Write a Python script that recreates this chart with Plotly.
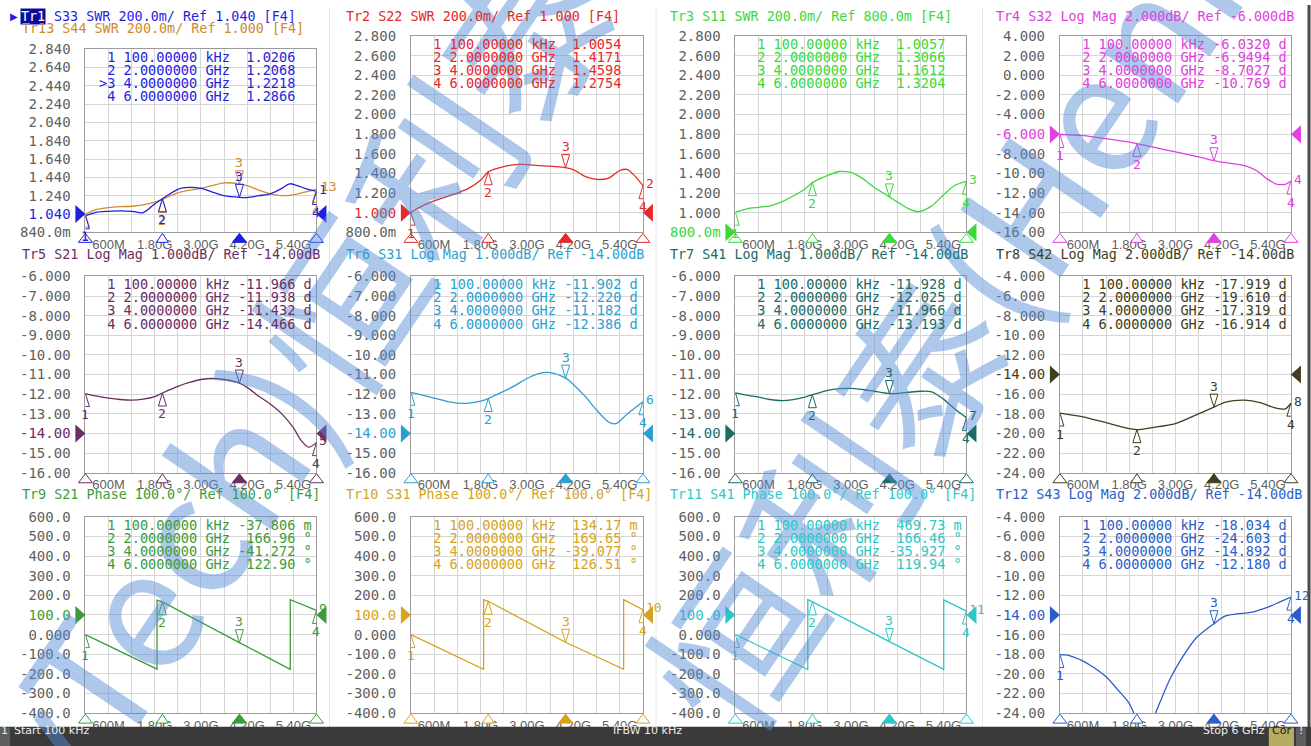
import plotly.graph_objects as go

W, H = 1311, 746

# ---------------- data (GHz, trace values) ----------------
x_tick_vals = [0, 0.6, 1.2, 1.8, 2.4, 3.0, 3.6, 4.2, 4.8, 5.4, 6.0]
x_tick_text = ["", "600M", "", "1.80G", "", "3.00G", "", "4.20G", "", "5.40G", ""]

marker_freqs = [0.0001, 2.0, 4.0, 6.0]
marker_freq_text = ["100.00000", "2.0000000", "4.0000000", "6.0000000"]
marker_units = ["kHz", "GHz", "GHz", "GHz"]

tr1_freq = [0.0001, 0.3, 0.6, 0.9, 1.2, 1.5, 1.8, 2.0, 2.4, 2.7, 3.0, 3.3, 3.6, 4.0, 4.2, 4.5, 4.8, 5.1, 5.3, 5.5, 5.7, 6.0]
tr1_swr = [1.0206, 1.06, 1.07, 1.075, 1.07, 1.055, 1.15, 1.2068, 1.31, 1.33, 1.32, 1.28, 1.24, 1.2218, 1.22, 1.24, 1.26, 1.32, 1.37, 1.35, 1.32, 1.2866]
tr13_freq = [0.0001, 0.3, 0.6, 0.9, 1.2, 1.5, 1.8, 2.0, 2.4, 2.7, 3.0, 3.3, 3.6, 4.0, 4.2, 4.5, 4.8, 5.1, 5.4, 5.7, 6.0]
tr13_swr = [1.04, 1.09, 1.11, 1.12, 1.125, 1.14, 1.17, 1.20, 1.27, 1.30, 1.32, 1.35, 1.38, 1.37, 1.35, 1.30, 1.26, 1.24, 1.25, 1.28, 1.31]
tr2_freq = [0.0001, 0.3, 0.6, 0.9, 1.2, 1.5, 1.8, 2.0, 2.4, 2.7, 3.0, 3.3, 3.6, 4.0, 4.2, 4.5, 4.8, 5.1, 5.4, 5.6, 5.8, 6.0]
tr2_swr = [1.0054, 1.07, 1.12, 1.16, 1.2, 1.25, 1.33, 1.4171, 1.47, 1.49, 1.49, 1.48, 1.475, 1.4598, 1.44, 1.37, 1.34, 1.35, 1.43, 1.44, 1.37, 1.2754]
tr3_freq = [0.0001, 0.3, 0.6, 0.9, 1.2, 1.5, 1.8, 2.0, 2.4, 2.7, 3.0, 3.3, 3.6, 4.0, 4.2, 4.5, 4.75, 5.1, 5.4, 5.7, 6.0]
tr3_swr = [1.0057, 1.04, 1.055, 1.07, 1.11, 1.17, 1.24, 1.3066, 1.38, 1.42, 1.41, 1.35, 1.26, 1.1612, 1.11, 1.04, 1.01, 1.07, 1.18, 1.28, 1.3204]
tr4_freq = [0.0001, 0.6, 1.2, 1.8, 2.0, 2.4, 3.0, 3.6, 4.0, 4.2, 4.8, 5.1, 5.4, 5.6, 5.85, 6.0]
tr4_db = [-6.032, -6.15, -6.45, -6.8, -6.9494, -7.3, -7.8, -8.3, -8.7027, -8.85, -9.2, -9.7, -10.6, -11.05, -11.1, -10.769]
tr5_freq = [0.0001, 0.3, 0.6, 0.9, 1.2, 1.5, 1.8, 2.0, 2.4, 2.7, 3.0, 3.3, 3.6, 4.0, 4.2, 4.5, 4.8, 5.1, 5.4, 5.6, 5.8, 6.0]
tr5_db = [-11.966, -12.1, -12.2, -12.27, -12.3, -12.25, -12.12, -11.938, -11.6, -11.4, -11.25, -11.2, -11.25, -11.432, -11.65, -12.1, -12.5, -13.0, -13.7, -14.35, -14.7, -14.466]
tr6_freq = [0.0001, 0.3, 0.6, 0.9, 1.2, 1.5, 1.8, 2.0, 2.4, 2.7, 3.0, 3.3, 3.6, 4.0, 4.2, 4.5, 4.8, 5.1, 5.3, 5.6, 6.0]
tr6_db = [-11.902, -12.05, -12.2, -12.35, -12.45, -12.45, -12.35, -12.22, -11.85, -11.55, -11.2, -10.95, -10.9, -11.182, -11.5, -12.1, -12.8, -13.4, -13.5, -13.0, -12.386]
tr7_freq = [0.0001, 0.3, 0.6, 0.9, 1.2, 1.5, 1.8, 2.0, 2.4, 2.7, 3.0, 3.3, 3.6, 4.0, 4.2, 4.5, 4.8, 5.1, 5.4, 5.7, 6.0]
tr7_db = [-11.928, -12.05, -12.15, -12.27, -12.33, -12.28, -12.15, -12.025, -11.8, -11.72, -11.7, -11.76, -11.85, -11.966, -11.96, -11.9, -11.85, -11.88, -12.25, -12.75, -13.193]
tr8_freq = [0.0001, 0.6, 1.2, 1.8, 2.0, 2.4, 3.0, 3.6, 4.0, 4.3, 4.8, 5.2, 5.6, 5.85, 6.0]
tr8_db = [-17.919, -18.3, -18.9, -19.5, -19.61, -19.4, -19.0, -18.0, -17.319, -16.8, -16.6, -16.85, -17.4, -17.5, -16.914]
tr9_freq = [0.0001, 1.86, 1.86, 2.0, 4.0, 5.32, 5.32, 6.0]
tr9_deg = [-0.037806, -176, 176, 166.96, -41.272, -177, 178, 122.90]
tr10_freq = [0.0001, 1.88, 1.88, 2.0, 4.0, 5.5, 5.5, 6.0]
tr10_deg = [0.13417, -177, 178, 169.65, -39.077, -177, 178, 126.51]
tr11_freq = [0.0001, 1.88, 1.88, 2.0, 4.0, 5.41, 5.41, 6.0]
tr11_deg = [0.46973, -178, 178, 166.46, -35.927, -177, 177, 119.94]
tr12_freq = [0.0001, 0.2, 0.6, 0.9, 1.2, 1.5, 1.8, 2.0, 2.2, 2.4, 2.6, 2.85, 3.2, 3.55, 4.0, 4.3, 4.6, 5.0, 5.4, 5.7, 6.0]
tr12_db = [-18.034, -18.1, -18.7, -19.4, -20.3, -21.6, -23.0, -24.603, -25.3, -24.6, -22.9, -20.6, -18.2, -16.3, -14.892, -14.1, -13.9, -13.7, -13.2, -12.7, -12.180]

# marker readouts (values at marker_freqs)
tr1_mk = [1.0206, 1.2068, 1.2218, 1.2866]
tr1_mk_text = ["1.0206", "1.2068", "1.2218", "1.2866"]
tr13_mk = [1.04, 1.20, 1.37, 1.31]
tr2_mk = [1.0054, 1.4171, 1.4598, 1.2754]
tr2_mk_text = ["1.0054", "1.4171", "1.4598", "1.2754"]
tr3_mk = [1.0057, 1.3066, 1.1612, 1.3204]
tr3_mk_text = ["1.0057", "1.3066", "1.1612", "1.3204"]
tr4_mk = [-6.0320, -6.9494, -8.7027, -10.769]
tr4_mk_text = ["-6.0320 d", "-6.9494 d", "-8.7027 d", "-10.769 d"]
tr5_mk = [-11.966, -11.938, -11.432, -14.466]
tr5_mk_text = ["-11.966 d", "-11.938 d", "-11.432 d", "-14.466 d"]
tr6_mk = [-11.902, -12.220, -11.182, -12.386]
tr6_mk_text = ["-11.902 d", "-12.220 d", "-11.182 d", "-12.386 d"]
tr7_mk = [-11.928, -12.025, -11.966, -13.193]
tr7_mk_text = ["-11.928 d", "-12.025 d", "-11.966 d", "-13.193 d"]
tr8_mk = [-17.919, -19.610, -17.319, -16.914]
tr8_mk_text = ["-17.919 d", "-19.610 d", "-17.319 d", "-16.914 d"]
tr9_mk = [-0.037806, 166.96, -41.272, 122.90]
tr9_mk_text = ["-37.806 m", " 166.96 °", "-41.272 °", " 122.90 °"]
tr10_mk = [0.13417, 169.65, -39.077, 126.51]
tr10_mk_text = [" 134.17 m", " 169.65 °", "-39.077 °", " 126.51 °"]
tr11_mk = [0.46973, 166.46, -35.927, 119.94]
tr11_mk_text = [" 469.73 m", " 166.46 °", "-35.927 °", " 119.94 °"]
tr12_mk = [-18.034, -24.603, -14.892, -12.180]
tr12_mk_text = ["-18.034 d", "-24.603 d", "-14.892 d", "-12.180 d"]

# ---------------- styling / layout helpers ----------------
MONO = "DejaVu Sans Mono"
SANS = "Liberation Sans"
GRAY = "#5f5f5f"
NB = "\u00a0"

# panel boxes in screen pixels
COL_X = [(88, 318), (412, 643), (735, 965), (1058, 1288)]
ROW_Y = [(37, 233), (277, 473), (517, 713)]
TITLE_X = [23, 345, 668, 992]
TITLE_Y = [17, 255, 495]

panels = [
    dict(n="1", title="S33 SWR 200.0m/ Ref 1.040 [F4]", color="#1f1fe0", f=tr1_freq, v=tr1_swr,
         lo=0.84, hi=2.84, ref=1.04, mk=tr1_mk, mkt=tr1_mk_text, shape="spline"),
    dict(n="2", title="Tr2 S22 SWR 200.0m/ Ref 1.000 [F4]", color="#e42a2a", f=tr2_freq, v=tr2_swr,
         lo=0.8, hi=2.8, ref=1.0, mk=tr2_mk, mkt=tr2_mk_text, shape="spline"),
    dict(n="3", title="Tr3 S11 SWR 200.0m/ Ref 800.0m [F4]", color="#3cd83c", f=tr3_freq, v=tr3_swr,
         lo=0.8, hi=2.8, ref=0.8, mk=tr3_mk, mkt=tr3_mk_text, shape="spline"),
    dict(n="4", title="Tr4 S32 Log Mag 2.000dB/ Ref -6.000dB", color="#e040e0", f=tr4_freq, v=tr4_db,
         lo=-16, hi=4, ref=-6, mk=tr4_mk, mkt=tr4_mk_text, shape="spline"),
    dict(n="5", title="Tr5 S21 Log Mag 1.000dB/ Ref -14.00dB", color="#6b2d62", f=tr5_freq, v=tr5_db,
         lo=-16, hi=-6, ref=-14, mk=tr5_mk, mkt=tr5_mk_text, shape="spline"),
    dict(n="6", title="Tr6 S31 Log Mag 1.000dB/ Ref -14.00dB", color="#2c9fcf", f=tr6_freq, v=tr6_db,
         lo=-16, hi=-6, ref=-14, mk=tr6_mk, mkt=tr6_mk_text, shape="spline"),
    dict(n="7", title="Tr7 S41 Log Mag 1.000dB/ Ref -14.00dB", color="#1b6b66", f=tr7_freq, v=tr7_db,
         lo=-16, hi=-6, ref=-14, mk=tr7_mk, mkt=tr7_mk_text, shape="spline"),
    dict(n="8", title="Tr8 S42 Log Mag 2.000dB/ Ref -14.00dB", color="#403d20", f=tr8_freq, v=tr8_db,
         lo=-24, hi=-4, ref=-14, mk=tr8_mk, mkt=tr8_mk_text, shape="spline"),
    dict(n="9", title="Tr9 S21 Phase 100.0°/ Ref 100.0° [F4]", color="#3c9c3c", f=tr9_freq, v=tr9_deg,
         lo=-400, hi=600, ref=100, mk=tr9_mk, mkt=tr9_mk_text, shape="linear"),
    dict(n="10", title="Tr10 S31 Phase 100.0°/ Ref 100.0° [F4]", color="#d4a41c", f=tr10_freq, v=tr10_deg,
         lo=-400, hi=600, ref=100, mk=tr10_mk, mkt=tr10_mk_text, shape="linear"),
    dict(n="11", title="Tr11 S41 Phase 100.0°/ Ref 100.0° [F4]", color="#2cc8c8", f=tr11_freq, v=tr11_deg,
         lo=-400, hi=600, ref=100, mk=tr11_mk, mkt=tr11_mk_text, shape="linear"),
    dict(n="12", title="Tr12 S43 Log Mag 2.000dB/ Ref -14.00dB", color="#2b5ec8", f=tr12_freq, v=tr12_db,
         lo=-24, hi=-4, ref=-14, mk=tr12_mk, mkt=tr12_mk_text, shape="spline"),
]
TR13_COLOR = "#d08a30"

# the captured page is slightly larger than the figure; map screen pixels to figure paper coords
SX, CX = 0.9954, 3.0
SY, CY = 0.977, 9.0


def px(xp):
    return (xp - CX) / SX / W


def py(yp):
    return 1 - (yp - CY) / SY / H


def fmt_tick(v):
    a = abs(v)
    if a < 1e-9:
        return "0.000"
    if a < 1:
        return f"{v * 1000:.1f}m"
    if a < 10:
        return f"{v:.3f}"
    if a < 100:
        return f"{v:.2f}"
    return f"{v:.1f}"


def axn(k):
    return "" if k == 1 else str(k)


fig = go.Figure()
layout = dict(
    width=W, height=H, margin=dict(l=0, r=0, t=0, b=0),
    paper_bgcolor="white", plot_bgcolor="white", showlegend=False,
)
shapes = []
ann = []

# watermark
WM = "rgba(85,140,215,0.48)"
WM_FONT = dict(family="Noto Sans CJK SC", size=165, color=WM)
ann.append(dict(xref="paper", yref="paper", x=px(1082), y=py(115), xanchor="center", yanchor="middle",
                text="恒利泰(HenryTech)", textangle=-56, showarrow=False, font=WM_FONT))
ann.append(dict(xref="paper", yref="paper", x=px(200), y=py(510), xanchor="center", yanchor="middle",
                text="HenryTech)恒利泰(", textangle=-56, showarrow=False, font=WM_FONT))


def add_markers(k, freqs, vals, color):
    xr, yr = "x" + axn(k), "y" + axn(k)
    for j, (fq, val) in enumerate(zip(freqs, vals)):
        if j == 2:
            path = "M0,0 L-4,13 L4,13 Z"
            shift = 21
        else:
            path = "M0,0 L-4,-13 L4,-13 Z"
            shift = -21
        shapes.append(dict(type="path", xref=xr, yref=yr, xsizemode="pixel", ysizemode="pixel",
                           xanchor=fq, yanchor=val, path=path, line=dict(color=color, width=1),
                           fillcolor="rgba(0,0,0,0)", layer="above"))
        ann.append(dict(xref=xr, yref=yr, x=fq, y=val, text=str(j + 1), showarrow=False,
                        yshift=shift, font=dict(family=MONO, size=13, color=color)))


for i, p in enumerate(panels):
    k = i + 1
    a = axn(k)
    col, row = i % 4, i // 4
    x0, x1 = COL_X[col]
    y0, y1 = ROW_Y[row]
    if i == 0:
        y0 = 50
    c = p["color"]
    lo, hi, ref = p["lo"], p["hi"], p["ref"]
    step = (hi - lo) / 10
    tv = [round(lo + step * j, 6) for j in range(11)]
    tt = []
    for v in tv:
        s = fmt_tick(v)
        if abs(v - ref) < 1e-6:
            s = f"<span style='color:{c}'>{s}</span>"
        tt.append(s)
    layout["xaxis" + a] = dict(
        domain=[px(x0), px(x1)], range=[0, 6], anchor="y" + a,
        tickmode="array", tickvals=x_tick_vals, ticktext=x_tick_text,
        showgrid=True, gridcolor="#d6d6d6", gridwidth=1, zeroline=False,
        showline=True, mirror=True, linecolor="#9c9c9c", linewidth=1,
        ticks="", ticklabelstandoff=0,
        tickfont=dict(family=SANS, size=13, color=GRAY), fixedrange=True,
    )
    layout["yaxis" + a] = dict(
        domain=[py(y1), py(y0)], range=[lo, hi], anchor="x" + a,
        tickmode="array", tickvals=tv, ticktext=tt,
        showgrid=True, gridcolor="#d6d6d6", gridwidth=1, zeroline=False,
        showline=True, mirror=True, linecolor="#9c9c9c", linewidth=1,
        ticks="", ticklabelstandoff=11,
        tickfont=dict(family=MONO, size=14, color=GRAY), fixedrange=True,
    )
    xr, yr = "x" + a, "y" + a

    if i == 0:
        fig.add_trace(go.Scatter(x=tr13_freq, y=tr13_swr, xaxis=xr, yaxis=yr, mode="lines",
                                 line=dict(color=TR13_COLOR, width=1.3, shape="spline", smoothing=0.8),
                                 hoverinfo="skip"))
    fig.add_trace(go.Scatter(x=p["f"], y=p["v"], xaxis=xr, yaxis=yr, mode="lines",
                             line=dict(color=c, width=1.3, shape=p["shape"],
                                       **({"smoothing": 0.8} if p["shape"] == "spline" else {})),
                             hoverinfo="skip"))

    # curve markers
    if i == 0:
        add_markers(k, marker_freqs, tr13_mk, TR13_COLOR)
        ann.append(dict(xref=xr, yref=yr, x=6, y=tr13_swr[-1], text="13", showarrow=False,
                        xanchor="left", xshift=3, yshift=3, font=dict(family=MONO, size=13, color=TR13_COLOR)))
    add_markers(k, marker_freqs, p["mk"], c)
    ann.append(dict(xref=xr, yref=yr, x=6, y=p["v"][-1], text=p["n"], showarrow=False,
                    xanchor="left", xshift=1, yshift=2, font=dict(family=MONO, size=13, color=c)))

    # reference level arrows
    yfrac = (ref - lo) / (hi - lo)
    for side, path in ((0, "M0,0 L-10,9 L-10,-9 Z"), (1, "M0,0 L10,9 L10,-9 Z")):
        shapes.append(dict(type="path", xref=xr + " domain", yref=yr + " domain",
                           xsizemode="pixel", ysizemode="pixel", xanchor=side, yanchor=yfrac,
                           path=path, line=dict(color=c, width=0), fillcolor=c, layer="above"))
    # stimulus marker indicators below the grid
    for j, fq in enumerate(marker_freqs):
        filled = (j == 2)
        hw = 7 if j != 1 else 6
        shapes.append(dict(type="path", xref=xr + " domain", yref=yr + " domain",
                           xsizemode="pixel", ysizemode="pixel", xanchor=fq / 6, yanchor=0,
                           path=f"M0,-1 L-{hw},-10 L{hw},-10 Z", line=dict(color=c, width=1),
                           fillcolor=c if filled else "white", layer="above"))

    # marker table
    top = y0
    for j in range(4):
        prefix = ">" if (i == 0 and j == 2) else NB
        line = f"{prefix}{j + 1} {marker_freq_text[j]} {marker_units[j]} {p['mkt'][j]:>7}"
        line = line.replace(" ", NB)
        ann.append(dict(xref="paper", yref="paper", x=px(x0 + 12), y=py(top + 8 + 13 * j),
                        xanchor="left", yanchor="middle", text=line, showarrow=False,
                        font=dict(family=MONO, size=13.6, color=c)))

    # title
    tx, tyy = TITLE_X[col], TITLE_Y[row]
    if i == 0:
        ann.append(dict(xref="paper", yref="paper", x=px(11), y=py(tyy), xanchor="left", yanchor="middle",
                        text="▶", showarrow=False, font=dict(family="DejaVu Sans", size=10, color=c)))
        ann.append(dict(xref="paper", yref="paper", x=px(tx), y=py(tyy), xanchor="left", yanchor="middle",
                        text="Tr1", showarrow=False, bgcolor="#0c0c9c", borderpad=0,
                        font=dict(family=MONO, size=13.4, color="white")))
        ann.append(dict(xref="paper", yref="paper", x=px(tx + 32), y=py(tyy), xanchor="left",
                        yanchor="middle", text=p["title"].replace(" ", NB), showarrow=False,
                        font=dict(family=MONO, size=13.4, color=c)))
        ann.append(dict(xref="paper", yref="paper", x=px(tx), y=py(tyy + 12), xanchor="left",
                        yanchor="middle", text="Tr13 S44 SWR 200.0m/ Ref 1.000 [F4]".replace(" ", NB),
                        showarrow=False, font=dict(family=MONO, size=13.4, color=TR13_COLOR)))
    else:
        ann.append(dict(xref="paper", yref="paper", x=px(tx), y=py(tyy), xanchor="left", yanchor="middle",
                        text=p["title"].replace(" ", NB), showarrow=False,
                        font=dict(family=MONO, size=13.4, color=c)))

# panel separators
for xs in (331, 656, 981):
    shapes.append(dict(type="line", xref="paper", yref="paper", x0=px(xs), x1=px(xs), y0=py(727), y1=py(9),
                       line=dict(color="#e6e6e6", width=1), layer="below"))

# outer frame and status bar
FRAME = "#4a4a4a"
shapes += [
    dict(type="line", xref="paper", yref="paper", x0=px(1.5), x1=px(1.5), y0=py(728), y1=py(6),
         line=dict(color=FRAME, width=3), layer="above"),
    dict(type="line", xref="paper", yref="paper", x0=px(1306), x1=px(1306), y0=py(728), y1=py(6),
         line=dict(color=FRAME, width=3), layer="above"),
    dict(type="rect", xref="paper", yref="paper", x0=-0.01, x1=1.01, y0=-0.05, y1=py(726.5),
         line=dict(width=0), fillcolor="#3a3a3a", layer="above"),
    dict(type="rect", xref="paper", yref="paper", x0=px(2), x1=px(13), y0=-0.05, y1=py(727.5),
         line=dict(width=0), fillcolor="#5e5e5e", layer="above"),
    dict(type="rect", xref="paper", yref="paper", x0=px(1266), x1=px(1291), y0=-0.05,
         y1=py(727.5), line=dict(width=0), fillcolor="#b4ad62", layer="above"),
    dict(type="rect", xref="paper", yref="paper", x0=px(1293), x1=px(1303), y0=-0.05,
         y1=py(727.5), line=dict(width=0), fillcolor="#5e5e5e", layer="above"),
]
# status texts sit on the bottom edge of the figure
bar_font = dict(family="DejaVu Sans", size=11, color="#eeeeee")
bar = dict(xref="paper", yref="paper", y=0, yanchor="bottom", showarrow=False, borderpad=0)
ann += [
    dict(bar, x=px(7.5), text="1", xanchor="center", font=bar_font),
    dict(bar, x=px(16), text="Start 100 kHz", xanchor="left", font=bar_font),
    dict(bar, x=px(648), text="IFBW 10 kHz", xanchor="center", font=bar_font),
    dict(bar, x=px(1263), text="Stop 6 GHz", xanchor="right", font=bar_font),
    dict(bar, x=px(1278.5), text="Cor", xanchor="center",
         font=dict(family="DejaVu Sans", size=11, color="#222222")),
    dict(bar, x=px(1298), text="!", xanchor="center", font=bar_font),
]

layout["shapes"] = shapes
layout["annotations"] = ann
fig.update_layout(**layout)

PAGE_JS = (
    "document.body.style.margin='0';document.body.style.overflow='hidden';"
    "document.documentElement.style.background="
    "'linear-gradient(to bottom,#ffffff 0px,#ffffff 5px,#4a4a4a 5px,#4a4a4a 8px,#3a3a3a 8px)';"
)
fig.write_html("out.html", config=dict(displayModeBar=False), post_script=PAGE_JS)
